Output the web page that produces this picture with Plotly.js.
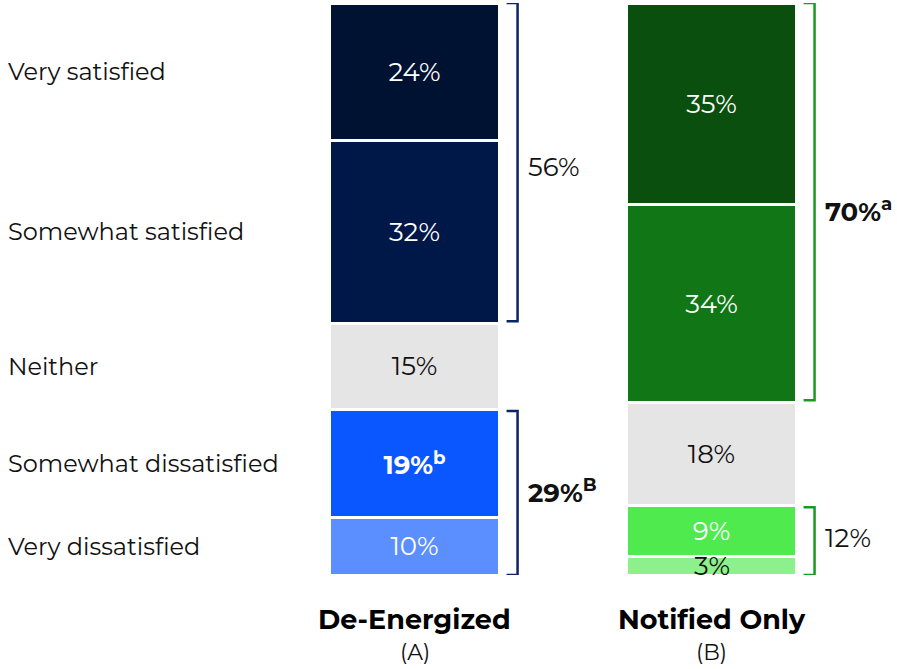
<!DOCTYPE html>
<html>
<head>
<meta charset="utf-8">
<script src="https://cdn.plot.ly/plotly-3.0.1.min.js"></script>
<style>html,body{margin:0;padding:0;background:#fff;}#chart{width:897px;height:669px;}</style>
</head>
<body>
<div id="chart"></div>
<script>
// Categories, bottom to top of the stack
const responses = ['Very dissatisfied', 'Somewhat dissatisfied', 'Neither', 'Somewhat satisfied', 'Very satisfied'];
const groups = ['De-Energized', 'Notified Only'];
const groupCodes = ['(A)', '(B)'];
// Values (bottom to top) for each group
const deEnergized = [10, 19, 15, 32, 24];
const notifiedOnly = [3.2, 9.0, 18.0, 34.5, 35.3];
// Displayed labels
const deEnergizedLabels = ['10%', '<b>19%<sup>b</sup></b>', '15%', '32%', '24%'];
const notifiedOnlyLabels = ['3%', '9%', '18%', '34%', '35%'];
// Net bracket labels: [bottom two, top two]
const deEnergizedNets = ['<b>29%<sup>B</sup></b>', '56%'];
const notifiedOnlyNets = ['12%', '<b>70%<sup>a</sup></b>'];

const colorsA = ['#5b8fff', '#0a57ff', '#e5e5e5', '#001848', '#001232'];
const colorsB = ['#8cf08c', '#4eea4e', '#e5e5e5', '#107616', '#0b4f0e'];
const textColA = ['#ffffff', '#ffffff', '#111111', '#ffffff', '#ffffff'];
const textColB = ['#111111', '#ffffff', '#111111', '#ffffff', '#ffffff'];

const FONT = 'Montserrat, "Open Sans", sans-serif';
const SMALL = 5; // segments smaller than this get their label as an overflowing annotation

const traces = responses.map((r, i) => ({
  type: 'bar',
  name: r,
  x: [0, 1],
  y: [deEnergized[i], notifiedOnly[i]],
  width: 0.572,
  cliponaxis: false,
  marker: {color: [colorsA[i], colorsB[i]], line: {color: '#ffffff', width: 3}},
  text: [deEnergized[i] < SMALL ? '' : deEnergizedLabels[i], notifiedOnly[i] < SMALL ? '' : notifiedOnlyLabels[i]],
  textposition: 'inside',
  insidetextanchor: 'middle',
  textangle: 0,
  constraintext: 'none',
  textfont: {family: FONT, size: 26, color: [textColA[i], textColB[i]]},
  insidetextfont: {family: FONT, size: 26, color: [textColA[i], textColB[i]]},
  hoverinfo: 'skip'
}));

function cum(arr) { const out = [0]; arr.forEach(v => out.push(out[out.length - 1] + v)); return out; }
const cumA = cum(deEnergized);
const cumB = cum(notifiedOnly);

const annotations = [];
// Labels of very small segments, allowed to overflow the bar
[[deEnergized, deEnergizedLabels, cumA, textColA], [notifiedOnly, notifiedOnlyLabels, cumB, textColB]].forEach(([vals, labs, c, tc], g) => {
  vals.forEach((v, i) => {
    if (v < SMALL) {
      annotations.push({
        xref: 'x', yref: 'y', x: g, xanchor: 'center', y: (c[i] + c[i + 1]) / 2, yanchor: 'middle',
        text: labs[i], showarrow: false, font: {family: FONT, size: 26, color: tc[i]}
      });
    }
  });
});

// Row labels on the left, centered on De-Energized segments
responses.forEach((r, i) => {
  annotations.push({
    xref: 'paper', yref: 'y', x: -0.438, xanchor: 'left',
    y: (cumA[i] + cumA[i + 1]) / 2, yanchor: 'middle',
    text: r, showarrow: false,
    font: {family: FONT, size: 24, color: '#111111'}
  });
});

// Brackets
const shapes = [];
function bracket(xc, lo, hi, color, label, shift) {
  const xv = xc + 0.347, xt = xc + 0.31;
  shapes.push({
    type: 'path', xref: 'x', yref: 'y',
    path: `M ${xt} ${hi} L ${xv} ${hi} L ${xv} ${lo} L ${xt} ${lo}`,
    line: {color: color, width: 2.5}
  });
  annotations.push({
    xref: 'x', yref: 'y', x: xv + 0.028, xanchor: 'left',
    y: (lo + hi) / 2, yanchor: 'middle', yshift: shift, text: label, showarrow: false,
    font: {family: FONT, size: 26, color: '#111111'}
  });
}
const gapV = 0.35;
bracket(0, cumA[3] + gapV, cumA[5], '#0b2462', deEnergizedNets[1], -5);
bracket(0, cumA[0], cumA[2] - gapV, '#0b2462', deEnergizedNets[0], 2);
bracket(1, cumB[3] + gapV, cumB[5], '#1c9a20', notifiedOnlyNets[1], -8);
bracket(1, cumB[0], cumB[2] - gapV, '#1c9a20', notifiedOnlyNets[0], 3);

// Group labels under bars
groups.forEach((g, i) => {
  annotations.push({
    xref: 'x', yref: 'paper', x: i, xanchor: 'center', y: -0.077, yanchor: 'middle',
    text: '<b>' + g + '</b>', showarrow: false,
    font: {family: FONT, size: 27, color: '#000000'}
  });
  annotations.push({
    xref: 'x', yref: 'paper', x: i, xanchor: 'center', y: -0.135, yanchor: 'middle',
    text: groupCodes[i], showarrow: false,
    font: {family: FONT, size: 22, color: '#111111'}
  });
});

const layout = {
  width: 897, height: 669,
  margin: {l: 266, r: 37, t: 3, b: 94},
  barmode: 'stack',
  showlegend: false,
  paper_bgcolor: '#ffffff', plot_bgcolor: '#ffffff',
  xaxis: {range: [-0.5, 1.5], showgrid: false, zeroline: false, showticklabels: false, showline: false, fixedrange: true},
  yaxis: {range: [0, 100], showgrid: false, zeroline: false, showticklabels: false, showline: false, fixedrange: true},
  shapes: shapes,
  annotations: annotations,
  font: {family: FONT}
};

Plotly.newPlot('chart', traces, layout, {displayModeBar: false, staticPlot: true});
</script>
</body>
</html>
